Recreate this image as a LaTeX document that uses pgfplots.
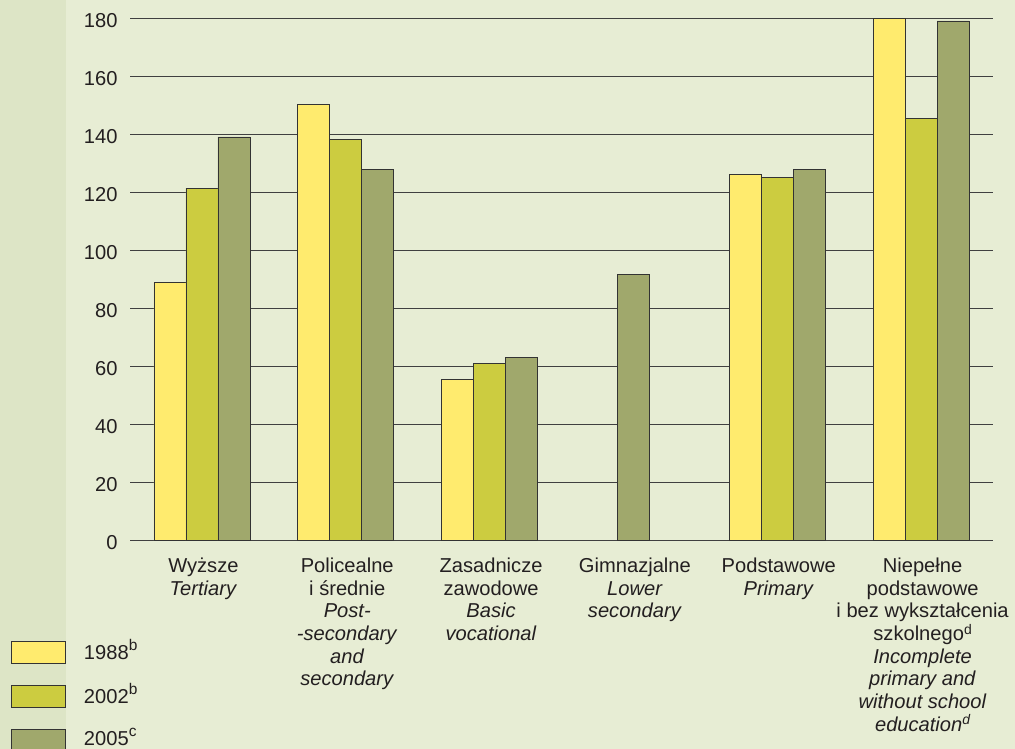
\documentclass[border=0pt]{standalone}
\usepackage{pgfplots}
\pgfplotsset{compat=1.18}
\usepackage{fontspec}
\setmainfont{Liberation Sans}

\definecolor{bgmain}{RGB}{231,237,212}
\definecolor{bgstrip}{RGB}{221,229,198}
\definecolor{c1988}{RGB}{255,235,110}
\definecolor{c2002}{RGB}{204,204,64}
\definecolor{c2005}{RGB}{160,168,108}
\definecolor{txt}{RGB}{35,31,32}

\newcommand{\sups}[1]{\raisebox{8.5bp}{\fontsize{15.5}{15.5}\selectfont #1}}
\newcommand{\supx}[1]{\raisebox{6.5bp}{\fontsize{14}{14}\selectfont #1}}
\newcommand{\legtxt}[1]{\raisebox{3bp}[\height][\depth]{\hspace{18bp}#1}}

\pgfplotsset{
  leg/.style={legend image code/.code={\draw[##1,line width=0.8bp] (0bp,-11bp) rectangle (54bp,11bp);}},
}

\begin{document}
\begin{tikzpicture}
\path[use as bounding box] (0bp,0bp) rectangle (1015bp,749bp);
\fill[bgmain] (0bp,0bp) rectangle (1015bp,749bp);
\fill[bgstrip] (0bp,0bp) rectangle (66bp,749bp);
\begin{axis}[
  at={(130bp,208.7bp)}, anchor=south west,
  scale only axis, width=863bp, height=522bp,
  xmin=-0.5, xmax=5.5, ymin=0, ymax=180,
  axis line style={draw=none},
  major tick length=0pt,
  ytick={0,20,...,180},
  ymajorgrids,
  grid style={black!75, line width=1bp},
  xtick={0,...,5},
  xticklabels={
    {Wyższe\\\textit{Tertiary}},
    {Policealne\\i średnie\\\textit{Post-}\\\textit{-secondary}\\\textit{and}\\\textit{secondary}},
    {Zasadnicze\\zawodowe\\\textit{Basic}\\\textit{vocational}},
    {Gimnazjalne\\\textit{Lower}\\\textit{secondary}},
    {Podstawowe\\\textit{Primary}},
    {Niepełne\\podstawowe\\i bez wykształcenia\\szkolnego\supx{d}\\\textit{Incomplete}\\\textit{primary and}\\\textit{without school}\\\textit{education\supx{d}}}
  },
  /pgf/number format/assume math mode=true,
  tick label style={font=\fontsize{20.2}{22.8}\selectfont, text=txt},
  xticklabel style={align=center, anchor=north, yshift=-14bp, xshift=1.5bp},
  yticklabel style={anchor=east, xshift=-9bp, yshift=-2bp},
  ybar=0pt, bar width=32bp,
  legend style={at={(axis description cs:-0.1379,-0.1925)}, anchor=north west,
    draw=none, fill=none, inner sep=0pt, row sep=21bp,
    font=\fontsize{20.2}{22.8}\selectfont, text=txt,
    nodes={inner sep=0pt, text depth=0pt}},
  legend cell align=left,
]
\addplot[leg, fill=c1988, draw=black!80, line width=0.8bp, bar shift=-32bp]
  coordinates {(0,89.0) (1,150.3) (2,55.5) (4,126.1) (5,180)};
\addlegendentry{\legtxt{1988\sups{b}}}
\addplot[leg, fill=c2002, draw=black!80, line width=0.8bp, bar shift=0bp]
  coordinates {(0,121.4) (1,138.1) (2,61.0) (4,125.2) (5,145.5)};
\addlegendentry{\legtxt{2002\sups{b}}}
\addplot[leg, fill=c2005, draw=black!80, line width=0.8bp, bar shift=32bp]
  coordinates {(0,139.1) (1,127.9) (2,62.9) (4,127.9) (5,179.1)};
\addlegendentry{\legtxt{2005\sups{c}}}
\addplot[fill=c2005, draw=black!80, line width=0.8bp, bar shift=0bp, forget plot]
  coordinates {(3,91.7)};
\end{axis}
\end{tikzpicture}
\end{document}
